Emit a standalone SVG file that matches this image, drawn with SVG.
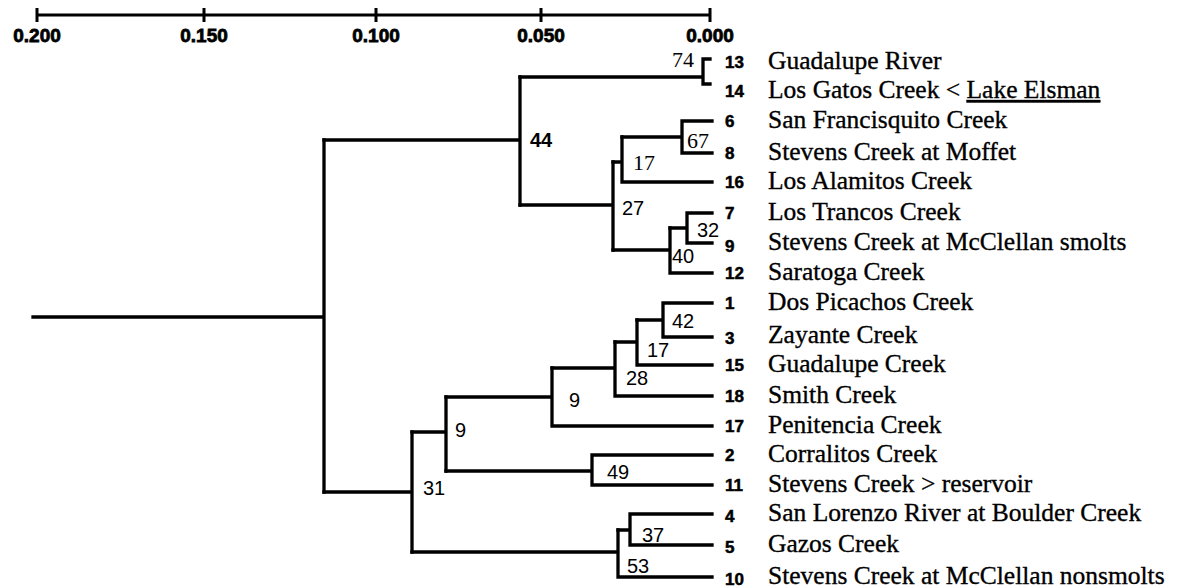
<svg xmlns="http://www.w3.org/2000/svg" width="1177" height="588" viewBox="0 0 1177 588">
<style>
.br{stroke:#000;stroke-width:3.3;fill:none;stroke-linecap:square}
.sc{stroke:#000;stroke-width:3;fill:none}
.num{font-family:"Liberation Sans",Arial,sans-serif;font-weight:bold;font-size:17px;fill:#000;stroke:#000;stroke-width:0.5}
.nm{font-family:"Liberation Serif","Times New Roman",serif;font-size:25.5px;fill:#000;stroke:#000;stroke-width:0.35}
.sl{font-family:"Liberation Sans",Arial,sans-serif;font-weight:bold;font-size:19px;fill:#000;text-anchor:middle;stroke:#000;stroke-width:0.8}
.bs{font-family:"Liberation Sans",Arial,sans-serif;font-size:20px;fill:#000}
.bf{font-family:"Liberation Serif","Times New Roman",serif;font-size:22px;fill:#000}
</style>
<rect width="1177" height="588" fill="#fff"/>
<g id="scale">
<path class="sc" d="M37,15 H710 M37,8 V22 M204,8 V22 M376,8 V22 M541,8 V22 M710,8 V22"/>
<text class="sl" x="37" y="42">0.200</text>
<text class="sl" x="204" y="42">0.150</text>
<text class="sl" x="376" y="42">0.100</text>
<text class="sl" x="541" y="42">0.050</text>
<text class="sl" x="710" y="42">0.000</text>
</g>
<g id="connectors">
<path class="br" d="M33,317 H324 M324,140 V492"/>
<path class="br" d="M324,140 H520 M520,77 V205"/>
<path class="br" d="M520,77 H703 M710,59 H703 V84 H710"/>
<path class="br" d="M520,205 H613 M613,162 V250"/>
<path class="br" d="M613,162 H622 M622,137 V182 M622,182 H712"/>
<path class="br" d="M622,137 H682 M682,121 V153 M682,121 H712 M682,153 H712"/>
<path class="br" d="M613,250 H670 M670,228 V273 M670,273 H712"/>
<path class="br" d="M670,228 H687 M687,213 V243 M687,213 H712 M687,243 H712"/>
<path class="br" d="M324,492 H412 M412,432 V552"/>
<path class="br" d="M412,432 H446 M446,397 V471"/>
<path class="br" d="M446,397 H552 M552,368 V426 M552,426 H712"/>
<path class="br" d="M552,368 H615 M615,342 V396 M615,396 H712"/>
<path class="br" d="M615,342 H637 M637,320 V365 M637,365 H712"/>
<path class="br" d="M637,320 H663 M663,303 V337 M663,303 H712 M663,337 H712"/>
<path class="br" d="M446,471 H592 M592,455 V485 M592,455 H712 M592,485 H712"/>
<path class="br" d="M412,552 H618 M618,530 V577 M618,577 H712"/>
<path class="br" d="M618,530 H630 M630,514 V545 M630,514 H712 M630,545 H712"/>
</g>
<g id="node-44"><text class="bs" x="530" y="147" font-weight="bold">44</text></g>
<g id="node-74"><text class="bf" x="672" y="67" font-size="18px">74</text></g>
<g id="node-27"><text class="bs" x="622" y="215" font-size="18px">27</text></g>
<g id="node-17a"><text class="bf" x="633" y="170">17</text></g>
<g id="node-67"><text class="bf" x="687" y="148" font-size="23px">67</text></g>
<g id="node-40"><text class="bs" x="672" y="263">40</text></g>
<g id="node-32"><text class="bs" x="697" y="237">32</text></g>
<g id="node-31"><text class="bs" x="423" y="495" font-size="19px">31</text></g>
<g id="node-9a"><text class="bs" x="455" y="437" font-size="19px">9</text></g>
<g id="node-9b"><text class="bs" x="569" y="407">9</text></g>
<g id="node-28"><text class="bs" x="626" y="385">28</text></g>
<g id="node-17b"><text class="bs" x="647" y="357">17</text></g>
<g id="node-42"><text class="bs" x="672" y="328">42</text></g>
<g id="node-49"><text class="bs" x="607" y="479">49</text></g>
<g id="node-37"><text class="bs" x="642" y="542">37</text></g>
<g id="node-53"><text class="bs" x="627" y="573">53</text></g>
<g id="leaf-13"><text class="num" x="725" y="68">13</text><text class="nm" x="768" y="69">Guadalupe River</text></g>
<g id="leaf-14"><text class="num" x="725" y="97">14</text><text class="nm" x="768" y="98">Los Gatos Creek &lt; <tspan text-decoration="underline">Lake Elsman</tspan></text></g>
<g id="leaf-6"><text class="num" x="725" y="127">6</text><text class="nm" x="768" y="128">San Francisquito Creek</text></g>
<g id="leaf-8"><text class="num" x="725" y="159">8</text><text class="nm" x="768" y="160">Stevens Creek at Moffet</text></g>
<g id="leaf-16"><text class="num" x="725" y="188">16</text><text class="nm" x="768" y="189">Los Alamitos Creek</text></g>
<g id="leaf-7"><text class="num" x="725" y="219">7</text><text class="nm" x="768" y="220">Los Trancos Creek</text></g>
<g id="leaf-9"><text class="num" x="725" y="252">9</text><text class="nm" x="768" y="250">Stevens Creek at McClellan smolts</text></g>
<g id="leaf-12"><text class="num" x="725" y="279">12</text><text class="nm" x="768" y="280">Saratoga Creek</text></g>
<g id="leaf-1"><text class="num" x="725" y="309">1</text><text class="nm" x="768" y="310">Dos Picachos Creek</text></g>
<g id="leaf-3"><text class="num" x="725" y="344">3</text><text class="nm" x="768" y="343">Zayante Creek</text></g>
<g id="leaf-15"><text class="num" x="725" y="371">15</text><text class="nm" x="768" y="372">Guadalupe Creek</text></g>
<g id="leaf-18"><text class="num" x="725" y="402">18</text><text class="nm" x="768" y="403">Smith Creek</text></g>
<g id="leaf-17"><text class="num" x="725" y="432">17</text><text class="nm" x="768" y="433">Penitencia Creek</text></g>
<g id="leaf-2"><text class="num" x="725" y="461">2</text><text class="nm" x="768" y="462">Corralitos Creek</text></g>
<g id="leaf-11"><text class="num" x="725" y="491">11</text><text class="nm" x="768" y="492">Stevens Creek &gt; reservoir</text></g>
<g id="leaf-4"><text class="num" x="725" y="522">4</text><text class="nm" x="768" y="521">San Lorenzo River at Boulder Creek</text></g>
<g id="leaf-5"><text class="num" x="725" y="553">5</text><text class="nm" x="768" y="552">Gazos Creek</text></g>
<g id="leaf-10"><text class="num" x="725" y="585">10</text><text class="nm" x="768" y="584">Stevens Creek at McClellan nonsmolts</text></g>
</svg>
